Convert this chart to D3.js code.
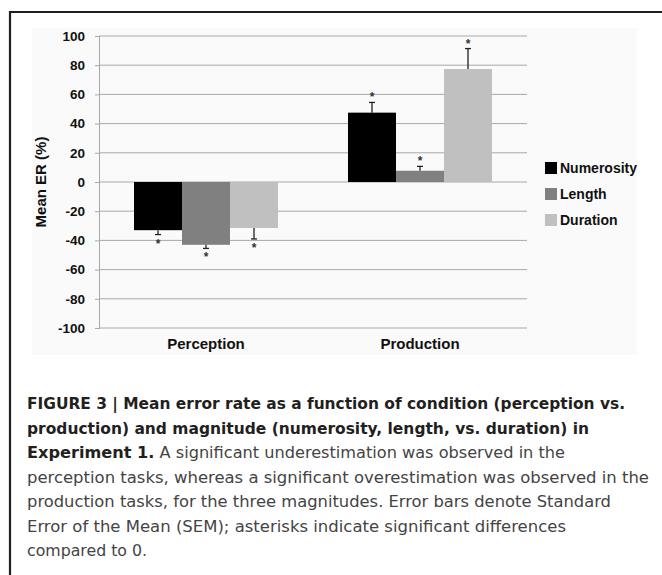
<!DOCTYPE html>
<html>
<head>
<meta charset="utf-8">
<script src="https://cdn.jsdelivr.net/npm/d3@7/dist/d3.min.js"></script>
<style>
  html, body { margin: 0; padding: 0; background: #fff; }
  svg { display: block; }
</style>
</head>
<body>
<svg id="chart" width="662" height="575"></svg>
<script>
// ---- data ----
const categories = ["Perception", "Production"];
const seriesNames = ["Numerosity", "Length", "Duration"];
const seriesColors = ["#000000", "#808080", "#c0c0c0"];
const perceptionValues = [-33, -43, -31.5];
const perceptionErrors = [3, 2.5, 7.5];
const productionValues = [47.5, 7.7, 77.4];
const productionErrors = [7, 3, 14];
const yTicks = [100, 80, 60, 40, 20, 0, -20, -40, -60, -80, -100];
const yTitle = "Mean ER (%)";
const captionLines = [
  [{t: "FIGURE 3 | Mean error rate as a function of condition (perception vs.", b: true}],
  [{t: "production) and magnitude (numerosity, length, vs. duration) in", b: true}],
  [{t: "Experiment 1.", b: true}, {t: " A significant underestimation was observed in the", b: false}],
  [{t: "perception tasks, whereas a significant overestimation was observed in the", b: false}],
  [{t: "production tasks, for the three magnitudes. Error bars denote Standard", b: false}],
  [{t: "Error of the Mean (SEM); asterisks indicate significant differences", b: false}],
  [{t: "compared to 0.", b: false}]
];
const captionLineEnds = [625, 589, 565, 649, 611, 566, 147];

const rows = [
  {cat: categories[0], values: perceptionValues, errors: perceptionErrors},
  {cat: categories[1], values: productionValues, errors: productionErrors}
];
const bars = [];
rows.forEach(r => r.values.forEach((v, i) => bars.push({cat: r.cat, s: seriesNames[i], v, e: r.errors[i], c: seriesColors[i]})));

// ---- layout ----
const svg = d3.select("#chart");
const plot = {left: 99, right: 527, top: 36, bottom: 328};
const chartFont = "'Liberation Sans', Arial, sans-serif";

// frame lines
svg.append("line").attr("x1", 9).attr("x2", 662).attr("y1", 12).attr("y2", 12)
  .attr("stroke", "#231f20").attr("stroke-width", 2.2);
svg.append("line").attr("x1", 10).attr("x2", 10).attr("y1", 11).attr("y2", 575)
  .attr("stroke", "#231f20").attr("stroke-width", 2.2);

// chart background
svg.append("rect").attr("x", 32).attr("y", 28).attr("width", 605).attr("height", 327).attr("fill", "#fafafa");

const y = d3.scaleLinear().domain([-100, 100]).range([plot.bottom, plot.top]);
const x0 = d3.scaleBand().domain(categories).range([plot.left, plot.right]).paddingInner(0.327).paddingOuter(0.1635);
const x1 = d3.scaleBand().domain(seriesNames).range([0, x0.bandwidth()]);

// gridlines
svg.append("g").selectAll("line").data(yTicks).join("line")
  .attr("x1", plot.left).attr("x2", plot.right)
  .attr("y1", d => y(d)).attr("y2", d => y(d))
  .attr("stroke", "#a8a8a8").attr("stroke-width", 1);

// y axis
const yAxis = d3.axisLeft(y).tickValues(yTicks).tickSize(4).tickPadding(10).tickFormat(d => String(d));
const gy = svg.append("g").attr("transform", `translate(${plot.left},0)`).call(yAxis);
gy.select(".domain").attr("stroke", "#a8a8a8");
gy.selectAll(".tick line").attr("stroke", "#a8a8a8");
gy.selectAll(".tick text").attr("font-family", chartFont).attr("font-weight", "bold")
  .attr("font-size", 13.5).attr("fill", "#111");

// y title
svg.append("text").attr("transform", `translate(46,${y(0)}) rotate(-90)`)
  .attr("text-anchor", "middle").attr("font-family", chartFont).attr("font-weight", "bold")
  .attr("font-size", 15).attr("fill", "#111").text(yTitle);

// bars
const gb = svg.append("g");
gb.selectAll("rect").data(bars).join("rect")
  .attr("x", d => x0(d.cat) + x1(d.s))
  .attr("width", x1.bandwidth())
  .attr("y", d => y(Math.max(0, d.v)))
  .attr("height", d => Math.abs(y(d.v) - y(0)))
  .attr("fill", d => d.c);

// error bars
const errEnd = d => d.v >= 0 ? d.v + d.e : d.v - d.e;
const cx = d => x0(d.cat) + x1(d.s) + x1.bandwidth() / 2;
gb.selectAll("line.err").data(bars).join("line").attr("class", "err")
  .attr("x1", cx).attr("x2", cx)
  .attr("y1", d => y(d.v)).attr("y2", d => y(errEnd(d)))
  .attr("stroke", "#222").attr("stroke-width", 1.3);
gb.selectAll("line.cap").data(bars).join("line").attr("class", "cap")
  .attr("x1", d => cx(d) - 3).attr("x2", d => cx(d) + 3)
  .attr("y1", d => y(errEnd(d))).attr("y2", d => y(errEnd(d)))
  .attr("stroke", "#222").attr("stroke-width", 1.3);

// asterisks
gb.selectAll("text.ast").data(bars).join("text").attr("class", "ast")
  .attr("x", cx)
  .attr("y", d => d.v >= 0 ? y(errEnd(d)) - 1 : y(errEnd(d)) + 13)
  .attr("text-anchor", "middle").attr("font-family", chartFont).attr("font-weight", "bold")
  .attr("font-size", 12).attr("fill", "#333").text("*");

// category labels
svg.append("g").selectAll("text").data(categories).join("text")
  .attr("x", d => x0(d) + x0.bandwidth() / 2).attr("y", 349)
  .attr("text-anchor", "middle").attr("font-family", chartFont).attr("font-weight", "bold")
  .attr("font-size", 15).attr("fill", "#111").text(d => d);

// legend
const lg = svg.append("g").selectAll("g").data(seriesNames).join("g")
  .attr("transform", (d, i) => `translate(545,${168 + i * 26})`);
lg.append("rect").attr("x", 0).attr("y", -6).attr("width", 12).attr("height", 12)
  .attr("fill", (d, i) => seriesColors[i]);
lg.append("text").attr("x", 15).attr("y", 5).attr("font-family", chartFont)
  .attr("font-weight", "bold").attr("font-size", 14).attr("fill", "#111").text(d => d);

// caption
const capFont = "'Liberation Sans Narrow', 'DejaVu Sans Condensed', 'Arial Narrow', sans-serif";
const cap = svg.append("g").selectAll("text").data(captionLines).join("text")
  .attr("x", 27).attr("y", (d, i) => 409 + i * 24.5)
  .attr("font-family", capFont).attr("font-size", 15.5)
  .attr("textLength", (d, i) => captionLineEnds[i] - 27)
  .attr("lengthAdjust", "spacingAndGlyphs");
cap.selectAll("tspan").data(d => d).join("tspan")
  .attr("font-weight", d => d.b ? "bold" : "normal")
  .attr("fill", d => d.b ? "#231f20" : "#444444")
  .text(d => d.t);
</script>
</body>
</html>
